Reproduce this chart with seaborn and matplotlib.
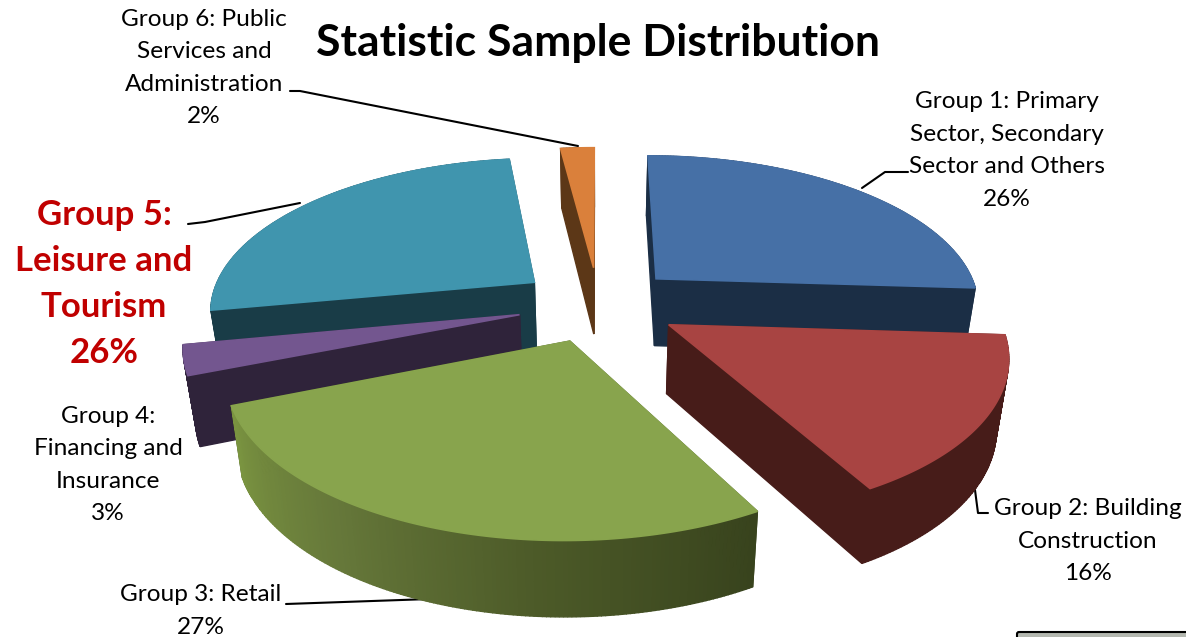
import numpy as np
import matplotlib
matplotlib.use("Agg")
import matplotlib.pyplot as plt
from matplotlib.patches import FancyBboxPatch
import seaborn as sns

# Sample share per group, in percent
groups = ["Group 1: Primary\nSector, Secondary\nSector and Others",
          "Group 2: Building\nConstruction",
          "Group 3: Retail",
          "Group 4:\nFinancing and\nInsurance",
          "Group 5:\nLeisure and\nTourism",
          "Group 6: Public\nServices and\nAdministration"]
shares = [26, 16, 27, 3, 26, 2]
top_colors = ["#4670a6", "#a84442", "#88a44d", "#73568f", "#4095ae", "#da803b"]
side_colors = ["#1b2e45", "#471c19", "#38431d", "#2f233a", "#193c47", "#5c3717"]
rim_ramps = [["#1b2e45"], ["#471c19"], ["#38431d", "#4c5a28", "#66783a", "#7a9440"],
             ["#2f233a"], ["#193c47"], ["#5c3717"]]
# Back-to-front drawing order of the slices
draw_order = [4, 5, 0, 3, 1, 2]

sns.set_theme(style="white")
plt.rcParams["font.family"] = ["Lato", "DejaVu Sans"]

CX, CY = 598.5, 304
RX, RY = 325, 151.5
TILT = 0.169
THICK = 68
EXPLODE = 0.25


def project(x, y, lower=False):
    """Perspective projection of a point on the pie disc to canvas coordinates."""
    p = 1 / (1 + TILT * y)
    sx = CX + RX * x * p
    sy = CY - RY * y * p
    if lower:
        sx = CX + (sx - CX) * 0.97
        sy = sy + THICK * (1 - 0.1 * y)
    return sx, sy


fig = plt.figure(figsize=(11.86, 6.37), dpi=100)
ax = fig.add_axes([0, 0, 1, 1])
ax.set_xlim(0, 1186)
ax.set_ylim(637, 0)
ax.axis("off")

# Slice angles run clockwise from twelve o'clock
fractions = np.array(shares) / sum(shares)
stops = np.pi / 2 - 2 * np.pi * np.concatenate([[0], np.cumsum(fractions)])

for rank, i in enumerate(draw_order):
    a0, a1 = stops[i], stops[i + 1]
    mid = (a0 + a1) / 2
    ox, oy = EXPLODE * np.cos(mid), EXPLODE * np.sin(mid)
    theta = np.linspace(a0, a1, max(8, int(shares[i] * 6)))
    rim_x, rim_y = ox + np.cos(theta), oy + np.sin(theta)

    # Radial faces
    for ex, ey in ((rim_x[0], rim_y[0]), (rim_x[-1], rim_y[-1])):
        quad = [project(ox, oy), project(ex, ey),
                project(ex, ey, True), project(ox, oy, True)]
        xs, ys = zip(*quad)
        ax.fill(xs, ys, color=side_colors[i], lw=1.0, zorder=1 + rank)

    # Rim segments, shaded along the arc
    ramp = rim_ramps[i] * 2 if len(rim_ramps[i]) == 1 else rim_ramps[i]
    shades = sns.blend_palette(ramp, len(theta) - 1)
    for j in range(len(theta) - 1):
        quad = [project(rim_x[j], rim_y[j]), project(rim_x[j + 1], rim_y[j + 1]),
                project(rim_x[j + 1], rim_y[j + 1], True), project(rim_x[j], rim_y[j], True)]
        xs, ys = zip(*quad)
        ax.fill(xs, ys, color=shades[j], lw=1.0, zorder=1 + rank)

    # Top surface, with an edge that covers the hairline of the walls below
    tx, ty = project(np.r_[ox, rim_x], np.r_[oy, rim_y])
    ax.fill(tx, ty, color=top_colors[i], lw=1.2, zorder=1.5 + rank)

ax.text(598, 43, "Statistic Sample Distribution", ha="center", va="center",
        fontsize=32, fontweight="bold", color="black", zorder=20)

label_anchor = [(1007, 150.5), (1088, 541), (201, 611), (108, 465), (104, 284), (204, 68)]
for i, (label, share, (lx, ly)) in enumerate(zip(groups, shares, label_anchor)):
    highlight = i == 4
    ax.text(lx, ly, f"{label}\n{share}%", ha="center", va="center",
            linespacing=1.53 if highlight else 1.68,
            fontsize=25 if highlight else 17.6,
            fontweight="bold" if highlight else "normal",
            color="#c00000" if highlight else "black", zorder=20)

# Leader lines from labels to slices
leaders = [([908, 885, 862], [172, 172, 188]),
           ([988, 978, 975], [513, 513, 490]),
           ([286, 430], [604, 599]),
           ([188, 205, 300], [224, 222, 203]),
           ([290, 300, 578], [91, 91, 146])]
for lx, ly in leaders:
    ax.plot(lx, ly, color="black", lw=1.5, zorder=0.5)

# Corner of an adjoining panel
ax.add_patch(FancyBboxPatch((1017, 632), 200, 30, boxstyle="round,pad=0,rounding_size=2",
                            fc="#b4b8b0", ec="black", lw=1.5, zorder=20))

fig.savefig("out.png", dpi=100)
